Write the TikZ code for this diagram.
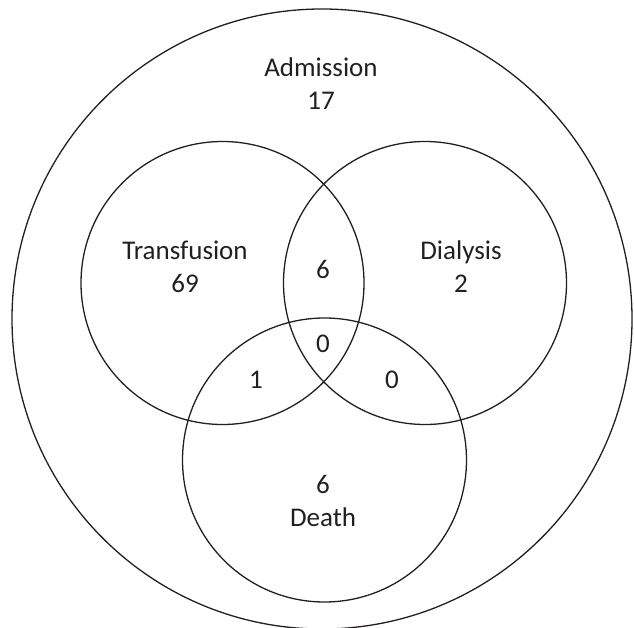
\documentclass[tikz,border=0pt]{standalone}
\usepackage{fontspec}
\setmainfont{Carlito}
\definecolor{ink}{HTML}{231F20}
\begin{document}
\begin{tikzpicture}[x=1pt,y=-1pt,
    venn/.style={ink,line width=1.3pt},
    lbl/.style={ink,align=center,inner sep=0pt,font=\fontsize{27}{33}\selectfont},
    num/.style={lbl,anchor=base}]
    \useasboundingbox (0,0) rectangle (634,628);
    \coordinate (adm) at (322,319);
    \coordinate (trans) at (222.5,283);
    \coordinate (dial) at (425,283);
    \coordinate (death) at (324.5,460);
    \draw[venn] (adm) circle (310); % outer set
    \draw[venn] (trans) circle (141.5);
    \draw[venn] (dial) circle (141.5);
    \draw[venn] (death) circle (142);
    \node[lbl] (admlbl) at (321,83.5) {Admission\\17};
    \node[lbl] (translbl) at (185,267) {Transfusion\\69};
    \node[lbl] (diallbl) at (461,267) {Dialysis\\2};
    \node[lbl] (deathlbl) at (323,500.5) {6\\Death};
    \node[num] (td) at (323,278) {6};
    \node[num] (tdd) at (323,352) {0};
    \node[num] (tde) at (256,388) {1};
    \node[num] (dde) at (392,388) {0};
\end{tikzpicture}
\end{document}
